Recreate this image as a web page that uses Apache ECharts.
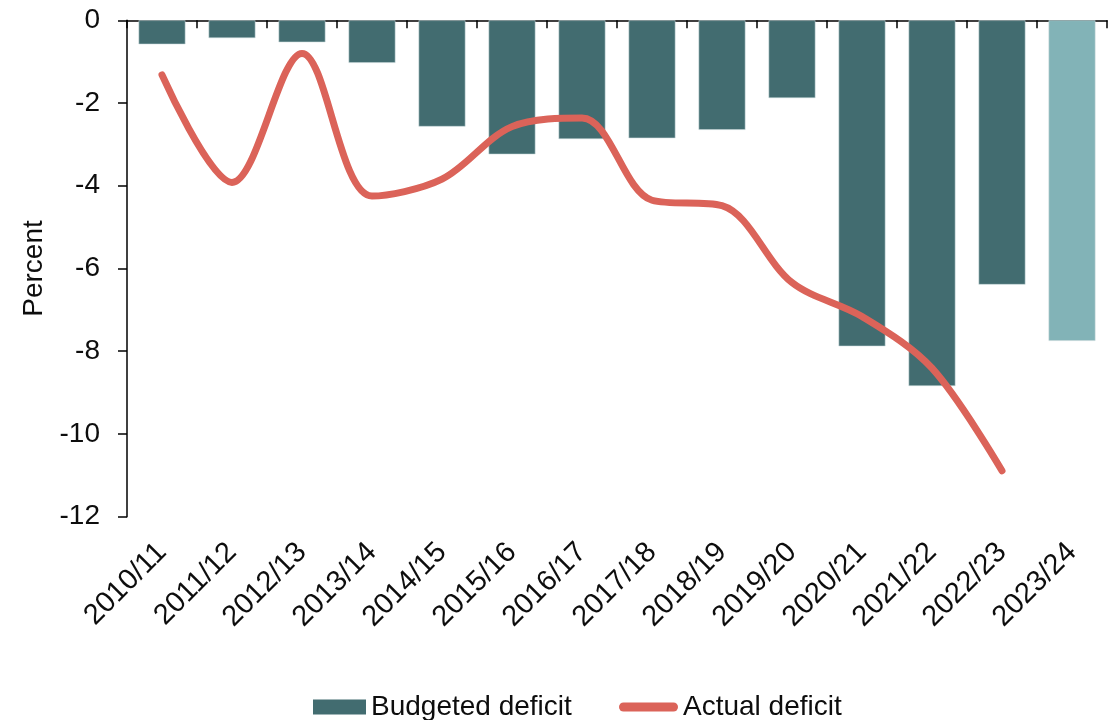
<!DOCTYPE html>
<html>
<head>
<meta charset="utf-8">
<title>Budgeted vs actual deficit</title>
<script src="https://cdn.jsdelivr.net/npm/echarts@6/dist/echarts.min.js"></script>
<style>
  html, body { margin: 0; padding: 0; background: #fff; }
  #chart { width: 1113px; height: 720px; }
</style>
</head>
<body>
<div id="chart"></div>
<script>
// Fiscal years on the category axis
const years = ['2010/11', '2011/12', '2012/13', '2013/14', '2014/15', '2015/16', '2016/17',
  '2017/18', '2018/19', '2019/20', '2020/21', '2021/22', '2022/23', '2023/24'];

// Budgeted deficit, percent of GDP (last year is the current budget)
const budgeted = [-0.58, -0.43, -0.53, -1.03, -2.57, -3.24, -2.87,
  -2.85, -2.65, -1.88, -7.88, -8.84, -6.39, -7.75];

// Actual deficit, percent of GDP (no outturn yet for the last year)
const actual = [-1.32, -3.92, -0.80, -4.25, -3.84, -2.57, -2.36,
  -4.35, -4.48, -6.34, -7.16, -8.41, -10.89, null];

// Y-axis ticks
const yMin = -12, yMax = 0, yStep = 2;

const FONT = 'Liberation Sans, Arial, sans-serif';
const TEXT = '#0d0d0d';
const DARK = '#426c70';
const LIGHT = '#82b3b7';
const RED = '#db6359';
const FS = 28;

const barData = budgeted.map((v, i) =>
  i === budgeted.length - 1 ? { value: v, itemStyle: { color: LIGHT } } : v);

// Pill-shaped legend marker for the line series
const PILL = 'path://M4.5,0 H54.5 A4.5,4.5 0 0 1 54.5,9 H4.5 A4.5,4.5 0 0 1 4.5,0 Z';

const legendText = { fontFamily: FONT, fontSize: FS, color: TEXT };

const chart = echarts.init(document.getElementById('chart'), null, { renderer: 'canvas' });
chart.setOption({
  animation: false,
  textStyle: { fontFamily: FONT },
  grid: { left: 127, right: 6, top: 20.3, bottom: 203.3, containLabel: false },
  legend: [
    {
      left: 313,
      top: 693,
      padding: 0,
      itemWidth: 53,
      itemHeight: 15,
      textStyle: legendText,
      data: [{ name: 'Budgeted deficit', icon: 'rect', itemStyle: { color: DARK, borderWidth: 0 } }]
    },
    {
      left: 619,
      top: 693,
      padding: 0,
      itemWidth: 59,
      itemHeight: 9,
      textStyle: legendText,
      data: [{ name: 'Actual deficit', icon: PILL, itemStyle: { color: RED, borderWidth: 0 } }]
    }
  ],
  xAxis: [
    {
      type: 'category',
      data: years,
      position: 'top',
      boundaryGap: true,
      axisLine: { onZero: false, lineStyle: { color: '#000', width: 1.5 } },
      axisTick: { show: true, inside: true, length: 8, lineStyle: { color: '#000', width: 1.5 } },
      axisLabel: { show: false },
      splitLine: { show: false }
    },
    {
      type: 'category',
      data: years,
      position: 'bottom',
      boundaryGap: true,
      axisLine: { show: false, onZero: false },
      axisTick: { show: false },
      axisLabel: {
        rotate: 45,
        margin: 31,
        fontSize: 29,
        color: TEXT,
        fontFamily: FONT,
        interval: 0
      },
      splitLine: { show: false }
    }
  ],
  yAxis: {
    type: 'value',
    min: yMin,
    max: yMax,
    interval: yStep,
    name: 'Percent',
    nameLocation: 'middle',
    nameRotate: 90,
    nameGap: 79,
    nameTextStyle: { fontSize: FS, color: TEXT, fontFamily: FONT },
    axisLine: { show: true, lineStyle: { color: '#000', width: 1.5 } },
    axisTick: { show: true, inside: false, length: 9, lineStyle: { color: '#000', width: 1.5 } },
    axisLabel: { fontSize: FS, color: TEXT, fontFamily: FONT, margin: 27 },
    splitLine: { show: false }
  },
  series: [
    {
      name: 'Budgeted deficit',
      type: 'bar',
      xAxisIndex: 0,
      barWidth: '67%',
      itemStyle: { color: DARK, borderColor: 'rgba(200,215,218,0.9)', borderWidth: 0.6 },
      data: barData
    },
    {
      name: 'Actual deficit',
      type: 'line',
      xAxisIndex: 0,
      smooth: 0.333,
      symbol: 'none',
      connectNulls: false,
      lineStyle: { color: RED, width: 7, cap: 'round', join: 'round' },
      itemStyle: { color: RED },
      data: actual
    }
  ]
});
</script>
</body>
</html>
